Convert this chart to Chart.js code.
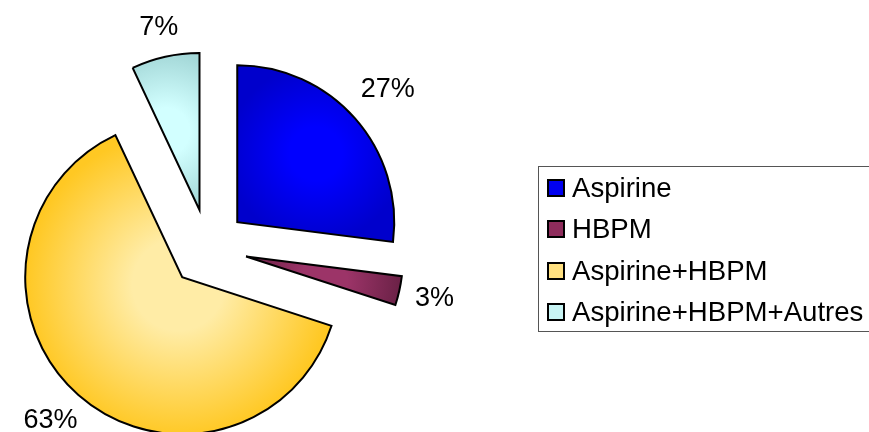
<!DOCTYPE html>
<html>
<head>
<meta charset="utf-8">
<script src="https://cdn.jsdelivr.net/npm/chart.js@4"></script>
<style>
  html, body { margin: 0; padding: 0; background: #fff; overflow: hidden; }
  #wrap { position: relative; width: 869px; height: 432px; }
  #legend {
    position: absolute; left: 538px; top: 166px; width: 345px; height: 166px;
    box-sizing: border-box; border: 1px solid #555;
    font-family: "Liberation Sans", Arial, sans-serif; font-size: 27.6px; color: #000;
  }
  #legend .row { display: flex; align-items: center; height: 41.5px; padding-left: 8px; }
  #legend .box { width: 18px; height: 18px; box-sizing: border-box; border: 2px solid #000; margin-right: 7px; flex: none; }
</style>
</head>
<body>
<div id="wrap">
  <canvas id="pie" width="869" height="432"></canvas>
  <div id="legend"></div>
</div>
<script>
  // ---- data ----
  const categories = ['Aspirine', 'HBPM', 'Aspirine+HBPM', 'Aspirine+HBPM+Autres'];
  const percents   = [27, 3, 63, 7];

  // ---- style ----
  // [centre colour, edge colour] for the path-style gradient fill
  const sliceColors = [
    ['#0000ff', '#0000cc'],
    ['#9c3468', '#6a2146'],
    ['#ffeca6', '#ffc823'],
    ['#d2ffff', '#a4d8d8']
  ];
  const legendColors = ['#0000f0', '#8e2c5c', '#ffe080', '#c8f4f4'];
  const EXPLODE = 39;      // px each slice is pulled out
  const LABEL_GAP = 11;    // px between arc edge and nearest corner of label box
  const LABEL_FONT = '27px "Liberation Sans", Arial, sans-serif';

  function arcBox(a) {
    const pts = [[a.x, a.y]];
    const push = t => pts.push([a.x + Math.cos(t) * a.outerRadius, a.y + Math.sin(t) * a.outerRadius]);
    push(a.startAngle); push(a.endAngle);
    for (let k = -4; k <= 8; k++) {
      const t = k * Math.PI / 2;
      if (t > a.startAngle && t < a.endAngle) push(t);
    }
    const xs = pts.map(p => p[0]), ys = pts.map(p => p[1]);
    return { x0: Math.min(...xs), x1: Math.max(...xs), y0: Math.min(...ys), y1: Math.max(...ys) };
  }

  // distance from origin to a box of half size hw x hh centred at (cx, cy)
  function boxDist(cx, cy, hw, hh) {
    const dx = Math.max(Math.abs(cx) - hw, 0), dy = Math.max(Math.abs(cy) - hh, 0);
    return Math.hypot(dx, dy);
  }

  const explodePlugin = {
    id: 'explode',
    afterDatasetsUpdate(chart) {
      const ctx = chart.ctx;
      chart.getDatasetMeta(0).data.forEach((arc, i) => {
        const mid = (arc.startAngle + arc.endAngle) / 2;
        arc.x += Math.cos(mid) * EXPLODE;
        arc.y += Math.sin(mid) * EXPLODE;
        const b = arcBox(arc);
        const cx = (b.x0 + b.x1) / 2, cy = (b.y0 + b.y1) / 2;
        const r = Math.max(b.x1 - b.x0, b.y1 - b.y0) / 2;
        const g = ctx.createRadialGradient(cx, cy, 0, cx, cy, r);
        g.addColorStop(0, sliceColors[i][0]);
        g.addColorStop(0.3, sliceColors[i][0]);
        g.addColorStop(1, sliceColors[i][1]);
        arc.options = Object.assign({}, arc.options, { backgroundColor: g });
      });
    },
    afterDatasetsDraw(chart) {
      const ctx = chart.ctx;
      ctx.save();
      ctx.font = LABEL_FONT;
      ctx.fillStyle = '#000';
      ctx.textAlign = 'center';
      ctx.textBaseline = 'middle';
      chart.getDatasetMeta(0).data.forEach((arc, i) => {
        const txt = percents[i] + '%';
        const hw = ctx.measureText(txt).width / 2 + 3, hh = 15;
        const mid = (arc.startAngle + arc.endAngle) / 2;
        const c = Math.cos(mid), s = Math.sin(mid);
        let d = arc.outerRadius;
        while (boxDist(c * d, s * d, hw, hh) < arc.outerRadius + LABEL_GAP) d += 0.5;
        // keep label inside the canvas like the source chart does
        const y = Math.min(Math.max(arc.y + s * d, 12), chart.height - 11);
        ctx.fillText(txt, arc.x + c * d, y);
      });
      ctx.restore();
    }
  };

  new Chart(document.getElementById('pie'), {
    type: 'pie',
    data: {
      labels: categories,
      datasets: [{
        data: percents,
        backgroundColor: legendColors,
        borderColor: '#000',
        borderWidth: 2,
        borderJoinStyle: 'miter',
        radius: 157,
        clip: false
      }]
    },
    options: {
      responsive: false,
      animation: false,
      layout: { padding: { left: 0, right: 453, top: 64, bottom: 0 } },
      plugins: { legend: { display: false }, tooltip: { enabled: false } }
    },
    plugins: [explodePlugin]
  });

  // ---- legend ----
  const legend = document.getElementById('legend');
  categories.forEach((name, i) => {
    const row = document.createElement('div');
    row.className = 'row';
    const box = document.createElement('span');
    box.className = 'box';
    box.style.background = legendColors[i];
    const txt = document.createElement('span');
    txt.textContent = name;
    row.appendChild(box);
    row.appendChild(txt);
    legend.appendChild(row);
  });
</script>
</body>
</html>
